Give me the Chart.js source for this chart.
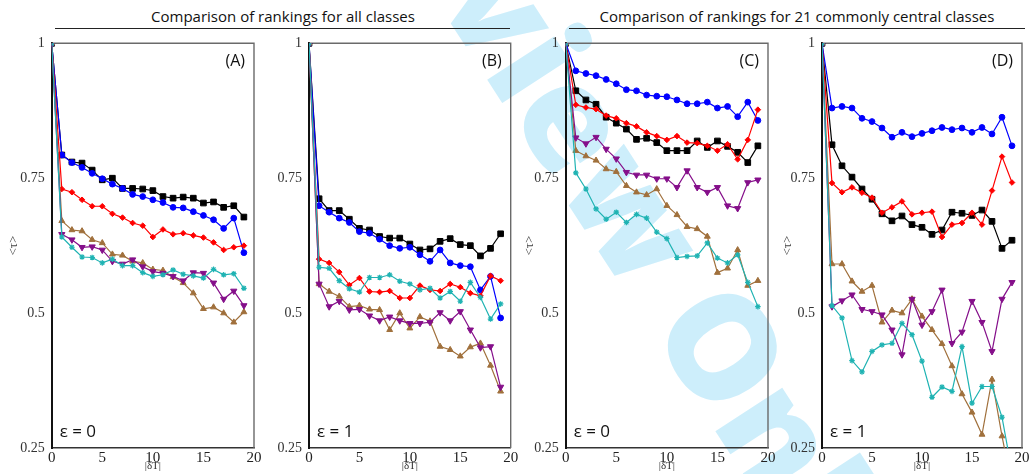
<!DOCTYPE html>
<html><head><meta charset="utf-8">
<script src="https://cdn.jsdelivr.net/npm/chart.js@4.4.1/dist/chart.umd.min.js"></script>
<style>
html,body{margin:0;padding:0;background:#fff;overflow:hidden;width:1029px;height:474px;position:relative}
canvas{position:absolute;top:0}
.title{position:absolute;top:6px;width:600px;font-family:"Open Sans";font-size:15px;line-height:20px;color:#111;text-align:center;white-space:nowrap}
.rule{position:absolute;top:28px;height:0;border-top:1.3px solid #222}
#wm{position:absolute;left:440px;top:-228px;font-family:"Open Sans";font-weight:800;font-size:144px;line-height:1;color:#cdeefb;transform-origin:0 0;transform:rotate(57deg);white-space:nowrap}
</style></head><body>
<div id="wm">Review Only</div>
<div class="title" id="t1" style="left:-17px"></div>
<div class="rule" style="left:55px;width:455px"></div>
<div class="title" id="t2" style="left:497px"></div>
<div class="rule" style="left:569px;width:456px"></div>
<canvas id="cA" width="270" height="474" style="left:0px"></canvas>
<canvas id="cB" width="262" height="474" style="left:262px"></canvas>
<canvas id="cC" width="264" height="474" style="left:516px"></canvas>
<canvas id="cD" width="270" height="474" style="left:774px"></canvas>
<script>
// ---------- data ----------
const categories = [0,1,2,3,4,5,6,7,8,9,10,11,12,13,14,15,16,17,18,19];
const xTickValues = [0,5,10,15,20];
const yTickValues = [0.25,0.5,0.75,1];
const yTickLabels = ['0.25','0.5','0.75','1'];
const sectionTitles = ['Comparison of rankings for all classes','Comparison of rankings for 21 commonly central classes'];
const panelLabels = ['(A)','(B)','(C)','(D)'];
const epsLabels = ['ε = 0','ε = 1','ε = 0','ε = 1'];
const yAxisTitle = '<τ>';
const xAxisTitle = '|δT|';

// Panel A
const A_black  = [1,0.793,0.780,0.778,0.765,0.747,0.750,0.731,0.731,0.730,0.727,0.716,0.713,0.715,0.713,0.704,0.706,0.696,0.699,0.678];
const A_blue   = [1,0.793,0.779,0.770,0.759,0.749,0.739,0.731,0.720,0.716,0.710,0.705,0.696,0.695,0.688,0.681,0.673,0.657,0.676,0.612];
const A_red    = [1,0.730,0.724,0.710,0.698,0.698,0.684,0.677,0.667,0.662,0.641,0.655,0.646,0.648,0.644,0.640,0.631,0.617,0.622,0.625];
const A_brown  = [1,0.671,0.654,0.652,0.636,0.630,0.609,0.607,0.596,0.593,0.581,0.579,0.567,0.556,0.537,0.508,0.511,0.500,0.483,0.502];
const A_purple = [1,0.646,0.636,0.622,0.623,0.617,0.596,0.591,0.599,0.586,0.577,0.574,0.568,0.560,0.575,0.574,0.556,0.526,0.541,0.514];
const A_cyan   = [1,0.641,0.622,0.604,0.603,0.593,0.600,0.588,0.588,0.575,0.568,0.571,0.580,0.572,0.569,0.565,0.581,0.571,0.573,0.546];
// Panel B
const B_black  = [1,0.712,0.690,0.690,0.674,0.657,0.654,0.642,0.639,0.639,0.628,0.617,0.619,0.633,0.638,0.627,0.625,0.606,0.620,0.647];
const B_blue   = [1,0.699,0.687,0.676,0.668,0.651,0.648,0.637,0.625,0.620,0.622,0.608,0.596,0.617,0.593,0.588,0.586,0.543,0.568,0.491];
const B_red    = [1,0.600,0.593,0.576,0.552,0.565,0.540,0.539,0.541,0.528,0.528,0.551,0.543,0.541,0.554,0.548,0.537,0.532,0.569,0.560];
const B_brown  = [1,0.554,0.540,0.531,0.512,0.514,0.507,0.506,0.469,0.500,0.472,0.493,0.485,0.438,0.432,0.420,0.437,0.444,0.403,0.355];
const B_purple = [1,0.554,0.512,0.522,0.506,0.507,0.495,0.486,0.493,0.486,0.481,0.481,0.483,0.501,0.486,0.503,0.469,0.436,0.438,0.363];
const B_cyan   = [1,0.585,0.583,0.560,0.545,0.539,0.566,0.566,0.571,0.559,0.554,0.543,0.546,0.528,0.540,0.522,0.557,0.529,0.489,0.517];
// Panel C
const C_black  = [1,0.912,0.895,0.887,0.863,0.852,0.841,0.822,0.824,0.816,0.801,0.801,0.801,0.819,0.807,0.819,0.809,0.798,0.779,0.810];
const C_blue   = [1,0.949,0.944,0.940,0.933,0.925,0.914,0.912,0.904,0.902,0.901,0.895,0.888,0.888,0.891,0.880,0.883,0.864,0.891,0.857];
const C_red    = [1,0.886,0.881,0.878,0.866,0.861,0.852,0.846,0.835,0.828,0.821,0.828,0.816,0.815,0.810,0.801,0.813,0.785,0.821,0.877];
const C_brown  = [1,0.801,0.791,0.783,0.767,0.762,0.736,0.724,0.719,0.730,0.699,0.682,0.660,0.656,0.642,0.575,0.583,0.617,0.551,0.560];
const C_purple = [1,0.825,0.814,0.826,0.804,0.786,0.761,0.756,0.756,0.749,0.749,0.733,0.764,0.733,0.724,0.733,0.699,0.694,0.742,0.747];
const C_cyan   = [1,0.760,0.730,0.693,0.674,0.687,0.668,0.683,0.676,0.650,0.638,0.603,0.605,0.606,0.630,0.602,0.593,0.608,0.557,0.512];
// Panel D
const D_black  = [1,0.812,0.773,0.752,0.730,0.711,0.684,0.671,0.680,0.664,0.659,0.646,0.654,0.687,0.685,0.681,0.691,0.670,0.620,0.635];
const D_blue   = [1,0.880,0.883,0.880,0.861,0.855,0.843,0.826,0.835,0.827,0.833,0.838,0.844,0.840,0.843,0.835,0.844,0.832,0.863,0.810];
const D_red    = [1,0.741,0.724,0.733,0.723,0.714,0.686,0.696,0.707,0.683,0.686,0.688,0.641,0.664,0.667,0.686,0.664,0.727,0.790,0.742];
const D_brown  = [1,0.591,0.591,0.559,0.540,0.551,0.483,0.505,0.500,0.526,0.494,0.469,0.443,0.402,0.350,0.316,0.275,0.377,0.272,0.180];
const D_purple = [1,0.512,0.523,0.534,0.507,0.503,0.497,0.469,0.423,0.526,0.478,0.503,0.543,0.444,0.465,0.522,0.483,0.429,0.526,0.557];
const D_cyan   = [1,0.514,0.491,0.412,0.391,0.429,0.441,0.444,0.481,0.460,0.411,0.344,0.363,0.355,0.438,0.333,0.364,0.364,0.307,0.206];

// ---------- styles ----------
const styles = {
  cyan:   {color:'#1fb3b3', pointStyle:'star',     radius:2.8, rot:0,   pbw:1.2},
  purple: {color:'#850f8a', pointStyle:'triangle', radius:3.6, rot:180, pbw:1},
  brown:  {color:'#a0703c', pointStyle:'triangle', radius:3.4, rot:0,   pbw:1},
  red:    {color:'#ff0000', pointStyle:'rectRot',  radius:2.8, rot:0,   pbw:1},
  blue:   {color:'#0000ff', pointStyle:'circle',   radius:2.9, rot:0,   pbw:1},
  black:  {color:'#000000', pointStyle:'rect',     radius:4.0, rot:0,   pbw:1}
};
const order = ['cyan','purple','brown','red','blue','black'];

const panels = [
  {id:'cA', series:{black:A_black,blue:A_blue,red:A_red,brown:A_brown,purple:A_purple,cyan:A_cyan}, yw:51.7, padR:16,   yTitle:true},
  {id:'cB', series:{black:B_black,blue:B_blue,red:B_red,brown:B_brown,purple:B_purple,cyan:B_cyan}, yw:47,   padR:13.3, yTitle:false},
  {id:'cC', series:{black:C_black,blue:C_blue,red:C_red,brown:C_brown,purple:C_purple,cyan:C_cyan}, yw:49.7, padR:12,   yTitle:true},
  {id:'cD', series:{black:D_black,blue:D_blue,red:D_red,brown:D_brown,purple:D_purple,cyan:D_cyan}, yw:48,   padR:22,   yTitle:true}
];

document.getElementById('t1').textContent = sectionTitles[0];
document.getElementById('t2').textContent = sectionTitles[1];

const framePlugin = {
  id:'frame',
  beforeDatasetsDraw(chart){
    const a = chart.chartArea, ctx = chart.ctx;
    ctx.save();
    ctx.strokeStyle = '#6a6a6a'; ctx.lineWidth = 1.4;
    ctx.beginPath();
    ctx.moveTo(a.left, a.top); ctx.lineTo(a.right, a.top); ctx.lineTo(a.right, a.bottom);
    ctx.stroke();
    ctx.restore();
  },
  afterDraw(chart){
    const a = chart.chartArea, ctx = chart.ctx, o = chart.options.plugins.frame;
    ctx.save();
    ctx.fillStyle = '#111';
    ctx.font = '16px "Open Sans"';
    ctx.textAlign = 'right'; ctx.textBaseline = 'middle';
    ctx.fillText(o.label, a.right - 9, a.top + 18);
    ctx.font = '17px "Open Sans"';
    ctx.textAlign = 'left';
    ctx.fillText(o.eps, a.left + 8, a.bottom - 16);
    ctx.restore();
  }
};

panels.forEach((p, i) => {
  const datasets = order.map(k => ({
    label:k,
    data:p.series[k],
    borderColor:styles[k].color,
    backgroundColor:styles[k].color,
    pointStyle:styles[k].pointStyle,
    pointRadius:styles[k].radius,
    pointRotation:styles[k].rot,
    pointBorderWidth:styles[k].pbw,
    borderWidth:1.2,
    tension:0
  }));
  new Chart(document.getElementById(p.id), {
    type:'line',
    data:{labels:categories, datasets},
    options:{
      responsive:false, animation:false, devicePixelRatio:1, events:[],
      layout:{padding:{top:43.3, right:p.padR, left:0, bottom:0}},
      plugins:{legend:{display:false}, tooltip:{enabled:false}, frame:{label:panelLabels[i], eps:epsLabels[i]}},
      scales:{
        x:{
          type:'linear', min:0, max:20,
          afterBuildTicks:s=>{ s.ticks = xTickValues.map(v=>({value:v})); },
          afterFit:s=>{ s.height = 26; s.paddingLeft = 0; s.paddingRight = 0; },
          ticks:{font:{family:'Liberation Serif', size:15}, color:'#222', padding:1, maxRotation:0, autoSkip:false,
                 callback:v=>String(v)},
          grid:{display:true, drawOnChartArea:false, drawTicks:false},
          border:{color:'#333', width:1.5},
          title:{display:true, text:xAxisTitle, font:{family:'Liberation Serif', size:11}, color:'#333', padding:{top:0, bottom:1}}
        },
        y:{
          min:0.25, max:1,
          afterBuildTicks:s=>{ s.ticks = yTickValues.map(v=>({value:v})); },
          afterFit:s=>{ s.width = p.yw; s.paddingTop = 0; s.paddingBottom = 0; },
          ticks:{font:{family:'Liberation Serif', size:14}, color:'#333', padding:7, autoSkip:false,
                 callback:v=>yTickLabels[yTickValues.indexOf(v)]},
          grid:{display:true, drawOnChartArea:false, drawTicks:false},
          border:{color:'#111', width:2},
          title:{display:p.yTitle, text:yAxisTitle, font:{family:'Liberation Serif', size:13}, color:'#444', padding:{top:6, bottom:0}}
        }
      }
    },
    plugins:[framePlugin]
  });
});
</script>
</body></html>
